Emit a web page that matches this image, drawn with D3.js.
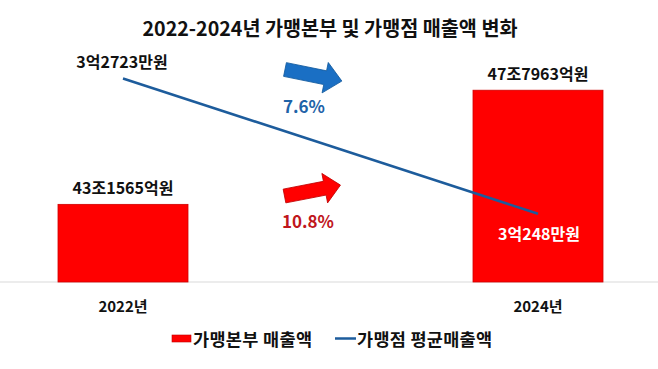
<!DOCTYPE html>
<html><head><meta charset="utf-8">
<script src="https://cdn.jsdelivr.net/npm/d3@7"></script>
<style>
html,body{margin:0;padding:0;background:#fff;}
svg{display:block;font-family:"Noto Sans CJK KR","Noto Sans",sans-serif;}
</style></head>
<body><svg id="c" width="658" height="369"></svg>
<script>
const title = "2022-2024년 가맹본부 및 가맹점 매출액 변화";
const categories = ["2022년", "2024년"];
const hqSales = [431565, 477963];            // 억원
const hqLabels = ["43조1565억원", "47조7963억원"];
const storeAvg = [32723, 30248];             // 만원
const storeLabels = ["3억2723만원", "3억248만원"];
const growthLabels = ["7.6%", "10.8%"];      // store avg, hq
const legendNames = ["가맹본부 매출액", "가맹점 평균매출액"];

const svg = d3.select("#c");
const W = 658, baseY = 282, topY = 36;

const x = d3.scalePoint().domain(categories).range([123, 538]);
const yL = d3.scaleLinear().domain([400000, 500000]).range([baseY, topY]);
const yR = d3.scaleLinear().domain([29000, 33500]).range([baseY, topY]);
const barW = 130;

// title
svg.append("text").attr("x", 330).attr("y", 36).attr("text-anchor", "middle")
  .attr("font-size", 20).attr("font-weight", "bold").attr("fill", "#111")
  .attr("textLength", 375).attr("lengthAdjust", "spacingAndGlyphs").text(title);

// axis baseline
svg.append("line").attr("x1", 0).attr("x2", W).attr("y1", baseY).attr("y2", baseY)
  .attr("stroke", "#d9d9d9").attr("stroke-width", 1);

// bars
svg.selectAll("rect.bar").data(categories).join("rect").attr("class", "bar")
  .attr("x", d => x(d) - barW / 2).attr("width", barW)
  .attr("y", (d, i) => yL(hqSales[i])).attr("height", (d, i) => baseY - yL(hqSales[i]))
  .attr("fill", "#ff0000").attr("stroke", "#d00000").attr("stroke-width", 0.8);

// bar labels
svg.selectAll("text.bl").data(categories).join("text").attr("class", "bl")
  .attr("x", d => x(d)).attr("y", (d, i) => yL(hqSales[i]) - 10)
  .attr("text-anchor", "middle").attr("font-size", 16).attr("font-weight", "bold")
  .attr("fill", "#111").text((d, i) => hqLabels[i]);

// line
const line = d3.line().x(d => x(d.c)).y(d => yR(d.v));
svg.append("path").datum(categories.map((c, i) => ({c, v: storeAvg[i]})))
  .attr("d", line).attr("fill", "none").attr("stroke", "#1d5c9c").attr("stroke-width", 2.5);

// line labels
svg.append("text").attr("x", x(categories[0]) - 1).attr("y", yR(storeAvg[0]) - 10)
  .attr("text-anchor", "middle").attr("font-size", 16).attr("font-weight", "bold")
  .attr("fill", "#111").text(storeLabels[0]);
svg.append("text").attr("x", x(categories[1]) + 1).attr("y", yR(storeAvg[1]) + 26)
  .attr("text-anchor", "middle").attr("font-size", 16).attr("font-weight", "bold")
  .attr("fill", "#fff").text(storeLabels[1]);

// category labels
svg.selectAll("text.cat").data(categories).join("text").attr("class", "cat")
  .attr("x", d => x(d)).attr("y", 312).attr("text-anchor", "middle")
  .attr("font-size", 15).attr("font-weight", "bold").attr("fill", "#111").text(d => d);

// arrows
function arrow(cx, cy, ang, L, sw, hw, hl, fill, stroke) {
  const pts = [[0, -sw / 2], [L - hl, -sw / 2], [L - hl, -hw / 2], [L, 0],
               [L - hl, hw / 2], [L - hl, sw / 2], [0, sw / 2]];
  svg.append("polygon").attr("points", pts.map(p => p.join(",")).join(" "))
    .attr("transform", `translate(${cx},${cy}) rotate(${ang})`)
    .attr("fill", fill).attr("stroke", stroke).attr("stroke-width", 0.8);
}
arrow(285, 69.5, 11.5, 58, 14, 31, 17, "#1a6fc4", "#135a9e");
arrow(284.5, 196, -11, 57, 14, 30, 16, "#ff0000", "#c00000");

svg.append("text").attr("x", 304).attr("y", 113).attr("text-anchor", "middle")
  .attr("font-size", 17).attr("font-weight", "bold").attr("fill", "#1f63a8").text(growthLabels[0]);
svg.append("text").attr("x", 308).attr("y", 228).attr("text-anchor", "middle")
  .attr("font-size", 17).attr("font-weight", "bold").attr("fill", "#c0161c").text(growthLabels[1]);

// legend
const lg = svg.append("g");
lg.append("rect").attr("x", 172).attr("y", 335).attr("width", 19).attr("height", 7)
  .attr("fill", "#ff0000").attr("stroke", "#c00000").attr("stroke-width", 0.6);
lg.append("text").attr("x", 193).attr("y", 345.5).attr("font-size", 17.5).attr("font-weight", "bold")
  .attr("fill", "#111").attr("textLength", 119).attr("lengthAdjust", "spacing").text(legendNames[0]);
lg.append("line").attr("x1", 335).attr("x2", 356).attr("y1", 338.5).attr("y2", 338.5)
  .attr("stroke", "#1d5c9c").attr("stroke-width", 2.5);
lg.append("text").attr("x", 357).attr("y", 345.5).attr("font-size", 17.5).attr("font-weight", "bold")
  .attr("fill", "#111").attr("textLength", 135).attr("lengthAdjust", "spacing").text(legendNames[1]);
</script></body></html>
